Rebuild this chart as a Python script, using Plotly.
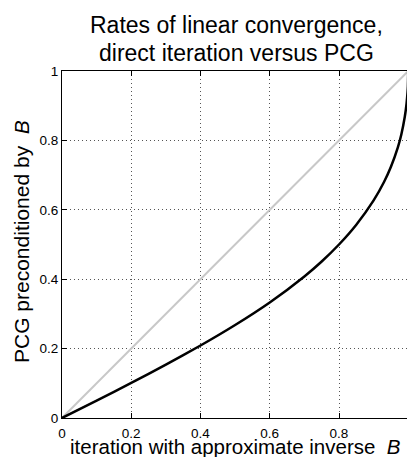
import plotly.graph_objects as go

# Data
direct_rate = [0, 0.1, 0.2, 0.3, 0.4, 0.5, 0.6, 0.7, 0.75, 0.8, 0.85, 0.9, 0.93,
               0.95, 0.97, 0.98, 0.99, 0.995, 0.998, 0.999, 1.0]
pcg_rate = [0, 0.050, 0.101, 0.154, 0.209, 0.268, 0.333, 0.408, 0.451, 0.500,
            0.557, 0.627, 0.680, 0.724, 0.780, 0.817, 0.868, 0.905, 0.939, 0.956, 1.0]
diag_x = [0, 1]
diag_y = [0, 1]
x_ticks = [0, 0.2, 0.4, 0.6, 0.8, 1]
x_ticktext = ["0", "0.2", "0.4", "0.6", "0.8", "1"]
y_ticks = [0, 0.2, 0.4, 0.6, 0.8, 1]
y_ticktext = ["0", "0.2", "0.4", "0.6", "0.8", "1"]

W, H = 407, 457
L, R, T, B = 62, 0, 71, 39
PW, PH = W - L - R, H - T - B
FONT = "Liberation Sans, Arial, Helvetica, sans-serif"


def px_x(p):
    return (p - L) / PW


def px_y(p):
    return (H - B - p) / PH


fig = go.Figure()
fig.add_trace(go.Scatter(x=diag_x, y=diag_y, mode="lines",
                         line=dict(color="#c8c8c8", width=2), showlegend=False,
                         hoverinfo="skip"))
fig.add_trace(go.Scatter(x=direct_rate, y=pcg_rate, mode="lines",
                         line=dict(color="black", width=2.5, shape="spline", smoothing=0.5),
                         showlegend=False, hoverinfo="skip"))

axis_common = dict(
    showline=True, linecolor="black", linewidth=1,
    ticks="inside", ticklen=5, tickcolor="black", tickwidth=1,
    showgrid=True, gridcolor="#555555", gridwidth=1, griddash="1px,3px",
    zeroline=False, tickfont=dict(family=FONT, size=13.5, color="black"),
)

fig.update_layout(
    width=W, height=H,
    margin=dict(l=L, r=R, t=T, b=B, pad=0),
    paper_bgcolor="white", plot_bgcolor="white",
    font=dict(family=FONT, color="black"),
    xaxis=dict(range=[0, PW / 346.25], tickvals=x_ticks, ticktext=x_ticktext,
               mirror="ticks", ticklabelstandoff=3, **axis_common),
    yaxis=dict(range=[0, 1], tickvals=y_ticks, ticktext=y_ticktext,
               mirror=False, **axis_common),
    annotations=[
        dict(text="Rates of linear convergence,", xref="paper", yref="paper",
             x=px_x(236), y=px_y(25), xanchor="center", yanchor="middle",
             showarrow=False, font=dict(family=FONT, size=23, color="black")),
        dict(text="direct iteration versus PCG", xref="paper", yref="paper",
             x=px_x(236), y=px_y(53), xanchor="center", yanchor="middle",
             showarrow=False, font=dict(family=FONT, size=23, color="black")),
        dict(text="iteration with approximate inverse&nbsp; <i>B</i>", xref="paper", yref="paper",
             x=px_x(235), y=px_y(446), xanchor="center", yanchor="middle",
             showarrow=False, font=dict(family=FONT, size=20.5, color="black")),
        dict(text="PCG preconditioned by&nbsp; <i>B</i>", xref="paper", yref="paper",
             x=px_x(21), y=px_y(242), xanchor="center", yanchor="middle", textangle=-90,
             showarrow=False, font=dict(family=FONT, size=21, color="black")),
    ],
)

fig.write_html("out.html",
               config={"displayModeBar": False, "staticPlot": True},
               post_script="document.body.style.margin='0';document.body.style.overflow='hidden';")
